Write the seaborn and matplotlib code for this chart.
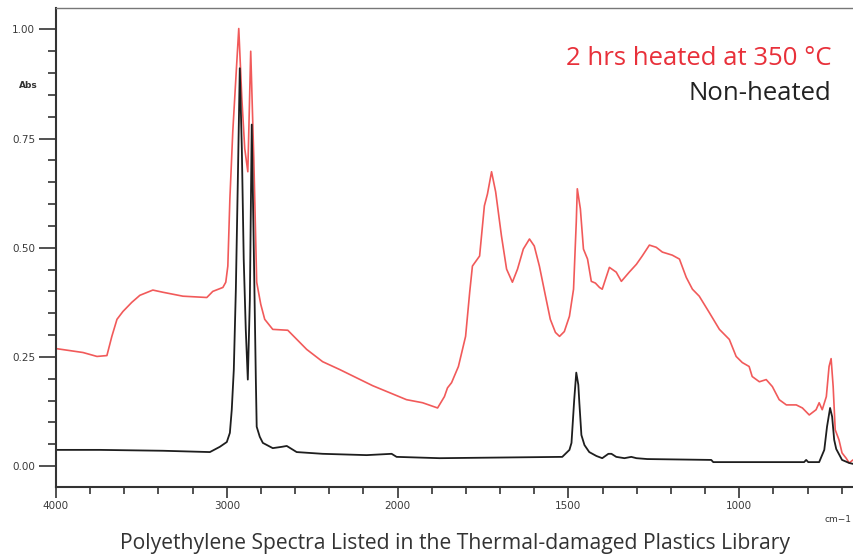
import numpy as np
import pandas as pd
import matplotlib
matplotlib.use("Agg")
import matplotlib.pyplot as plt
import seaborn as sns
from matplotlib.ticker import FixedLocator, FixedFormatter

# ---- data (wavenumber cm-1, absorbance) ----
heated_wn = [4000, 3842, 3760, 3702, 3673, 3643, 3608, 3556, 3509, 3433, 3374, 3257, 3117, 3082,
             3023, 3006, 2994, 2982, 2965, 2947, 2930, 2912, 2895, 2877, 2860, 2842, 2825, 2801,
             2778, 2731, 2643, 2532, 2439, 2339, 2240, 2146, 2047, 1974, 1927, 1883, 1863, 1854,
             1842, 1822, 1801, 1789, 1781, 1760, 1746, 1737, 1725, 1713, 1696, 1681, 1664, 1649,
             1632, 1614, 1600, 1585, 1567, 1553, 1538, 1526, 1512, 1497, 1485, 1477, 1474, 1465,
             1456, 1444, 1433, 1421, 1409, 1401, 1380, 1360, 1345, 1322, 1301, 1284, 1263, 1243,
             1225, 1196, 1175, 1155, 1137, 1117, 1088, 1058, 1029, 1009, 991, 971, 962, 941, 921,
             903, 883, 862, 833, 815, 795, 775, 766, 757, 745, 737, 731, 725, 719, 708, 699, 687,
             678, 667]
heated_abs = [0.269, 0.260, 0.251, 0.253, 0.297, 0.336, 0.354, 0.375, 0.391, 0.403, 0.398, 0.389,
              0.386, 0.400, 0.409, 0.421, 0.458, 0.612, 0.766, 0.888, 1.002, 0.842, 0.727, 0.674,
              0.950, 0.704, 0.421, 0.370, 0.336, 0.313, 0.311, 0.267, 0.239, 0.221, 0.202, 0.184,
              0.168, 0.152, 0.145, 0.133, 0.159, 0.179, 0.191, 0.228, 0.297, 0.398, 0.458, 0.481,
              0.596, 0.623, 0.674, 0.628, 0.527, 0.451, 0.421, 0.451, 0.497, 0.520, 0.504, 0.458,
              0.389, 0.336, 0.306, 0.297, 0.308, 0.343, 0.405, 0.559, 0.635, 0.589, 0.497, 0.474,
              0.423, 0.419, 0.409, 0.405, 0.455, 0.444, 0.423, 0.444, 0.462, 0.481, 0.506, 0.501,
              0.490, 0.483, 0.474, 0.432, 0.405, 0.389, 0.352, 0.313, 0.290, 0.251, 0.237, 0.228,
              0.205, 0.193, 0.198, 0.182, 0.152, 0.140, 0.140, 0.133, 0.117, 0.129, 0.145, 0.129,
              0.159, 0.228, 0.246, 0.182, 0.083, 0.060, 0.030, 0.018, 0.007, 0.014]

plain_wn = [4000, 3743, 3374, 3099, 3041, 3000, 2982, 2971, 2959, 2947, 2936, 2924, 2912, 2901,
            2889, 2877, 2865, 2854, 2842, 2830, 2825, 2807, 2789, 2731, 2678, 2649, 2620, 2591,
            2439, 2181, 2035, 2006, 1877, 1518, 1497, 1491, 1483, 1477, 1471, 1468, 1462, 1453,
            1439, 1418, 1401, 1383, 1374, 1360, 1336, 1316, 1301, 1269, 1082, 1076, 810, 804,
            798, 766, 751, 743, 734, 728, 722, 716, 699, 678, 667]
plain_abs = [0.037, 0.037, 0.035, 0.032, 0.044, 0.055, 0.076, 0.129, 0.221, 0.405, 0.642, 0.911,
             0.727, 0.474, 0.313, 0.198, 0.382, 0.782, 0.497, 0.198, 0.090, 0.067, 0.053, 0.041,
             0.044, 0.046, 0.039, 0.032, 0.028, 0.025, 0.028, 0.021, 0.018, 0.021, 0.037, 0.053,
             0.152, 0.214, 0.186, 0.145, 0.071, 0.048, 0.032, 0.023, 0.018, 0.028, 0.028, 0.021,
             0.018, 0.021, 0.018, 0.016, 0.014, 0.009, 0.009, 0.014, 0.009, 0.009, 0.037, 0.090,
             0.133, 0.113, 0.060, 0.039, 0.014, 0.007, 0.005]

x_major = [4000, 3000, 2000, 1500, 1000]
x_major_labels = ["4000", "3000", "2000", "1500", "1000"]
y_major = [0.0, 0.25, 0.50, 0.75, 1.00]
y_major_labels = ["0.00", "0.25", "0.50", "0.75", "1.00"]

title = "Polyethylene Spectra Listed in the Thermal-damaged Plastics Library"
label_heated = "2 hrs heated at 350 °C"
label_plain = "Non-heated"

# ---- figure ----
sns.set_style("ticks")
plt.rcParams["font.family"] = ["DejaVu Sans"]

fig = plt.figure(figsize=(8.54, 5.59), dpi=100)
ax = fig.add_axes([56 / 854, (559 - 487) / 559, (854 - 56) / 854, (487 - 8) / 559])

df_h = pd.DataFrame({"wn": heated_wn, "abs": heated_abs})
df_p = pd.DataFrame({"wn": plain_wn, "abs": plain_abs})

sns.lineplot(data=df_h, x="wn", y="abs", ax=ax, color="#f04848", lw=1.2,
             estimator=None, sort=False, alpha=0.9)
sns.lineplot(data=df_p, x="wn", y="abs", ax=ax, color="#1e1e1e", lw=1.3,
             estimator=None, sort=False)


# FTIR style axis: 2x expansion below 2000 cm-1
def fwd(w):
    w = np.asarray(w, dtype=float)
    return np.where(w >= 2000, w - 4000, 2 * w - 6000)


def inv(v):
    v = np.asarray(v, dtype=float)
    return np.where(v >= -2000, v + 4000, (v + 6000) / 2)


ax.set_xscale("function", functions=(fwd, inv))
ax.set_xlim(4000, 664)
ax.set_ylim(-0.048, 1.049)

ax.xaxis.set_major_locator(FixedLocator(x_major))
ax.xaxis.set_major_formatter(FixedFormatter(x_major_labels))
minor_x = [w for w in list(range(3800, 2000, -200)) + list(range(1900, 650, -100)) if w not in x_major]
ax.xaxis.set_minor_locator(FixedLocator(minor_x))
ax.yaxis.set_major_locator(FixedLocator(y_major))
ax.yaxis.set_major_formatter(FixedFormatter(y_major_labels))
ax.yaxis.set_minor_locator(FixedLocator([i * 0.05 for i in range(-0, 21) if i % 5 != 0]))

ax.tick_params(axis="both", which="major", labelsize=7.5, colors="#333333", labelcolor="#3a3a3a",
               width=1.2, direction="out")
ax.tick_params(axis="y", which="major", length=12, pad=3)
ax.tick_params(axis="x", which="major", length=8, pad=2)
ax.tick_params(axis="y", which="minor", length=6, width=1.2, color="#333333")
ax.tick_params(axis="x", which="minor", length=5, width=1.2, color="#333333")

ax.set_xlabel("")
ax.set_ylabel("")
for s in ["left", "bottom"]:
    ax.spines[s].set_color("#333333")
    ax.spines[s].set_linewidth(1.5)
ax.spines["top"].set_color("#777777")
ax.spines["top"].set_linewidth(1.0)
ax.spines["right"].set_visible(False)

fig.text(28 / 854, 1 - 85 / 559, "Abs", fontsize=6.5, color="#333333", ha="center", va="center",
         fontweight="bold")
fig.text(838 / 854, 1 - 519 / 559, "cm\u22121", fontsize=6.5, color="#333333", ha="center", va="center")

ax.text(0.972, 0.895, label_heated, transform=ax.transAxes, ha="right", va="center",
        fontsize=18.5, color="#e8303a", family=["Open Sans", "DejaVu Sans"])
ax.text(0.972, 0.821, label_plain, transform=ax.transAxes, ha="right", va="center",
        fontsize=18.5, color="#222222", family=["Open Sans", "DejaVu Sans"])

fig.text(455 / 854, 1 - 543 / 559, title, ha="center", va="center", fontsize=15.2,
         color="#333333", family=["Open Sans", "DejaVu Sans"])

fig.savefig("out.png", dpi=100)
